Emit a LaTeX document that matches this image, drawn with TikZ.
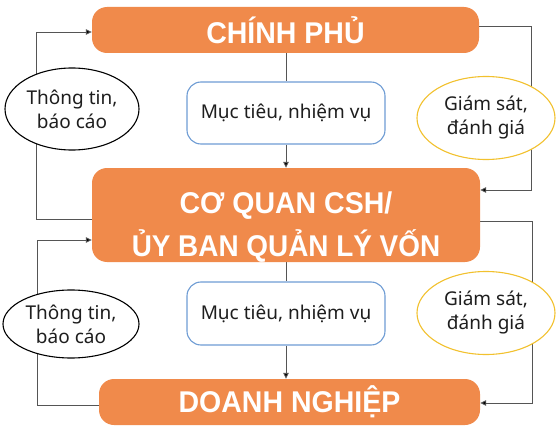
\documentclass[tikz,border=0pt]{standalone}
\usepackage{fontspec}
\setmainfont{Noto Sans}
\newfontfamily\bigfont{Liberation Sans}[FakeStretch=0.95]
\usetikzlibrary{arrows.meta,shapes.geometric,backgrounds}
\definecolor{orangebox}{HTML}{F08A4B}
\definecolor{bluebrd}{HTML}{6E9CD4}
\definecolor{goldbrd}{HTML}{F2C12E}
\definecolor{linegray}{HTML}{555555}
\definecolor{txt}{HTML}{1E1E1E}
\tikzset{
  mainbox/.style={rectangle, rounded corners=15pt, fill=orangebox, draw=none,
    text=white, font=\bigfont\bfseries\fontsize{30}{31}\selectfont, align=center,
    inner sep=0pt},
  goalbox/.style={rectangle, rounded corners=14pt, fill=white, draw=bluebrd,
    line width=1.1pt, text=txt, font=\fontsize{19}{23}\selectfont, inner sep=0pt},
  infoell/.style={ellipse, fill=white, draw=black, line width=1.1pt, text=txt,
    font=\fontsize{19}{24}\selectfont, align=center, inner sep=0pt},
  evalell/.style={ellipse, fill=white, draw=goldbrd, line width=1.1pt, text=txt,
    font=\fontsize{19}{24}\selectfont, align=center, inner sep=0pt},
  conn/.style={draw=linegray, line width=0.9pt},
  arr/.style={conn, -{Triangle[length=6pt,width=5.5pt,fill=black]}},
}
\begin{document}
\begin{tikzpicture}[x=1pt,y=-1pt]
\useasboundingbox (0,0) rectangle (560,436);
% main boxes
\node[mainbox, minimum width=387pt, minimum height=46pt] (top) at (285.5,30) {CHÍNH PHỦ};
\node[mainbox, minimum width=388pt, minimum height=94pt, text depth=0pt] (mid) at (286,215)
  {\raisebox{3pt}{\begin{tabular}{@{}c@{}}CƠ QUAN CSH/\\[7pt]{\addfontfeature{FakeStretch=0.93}ỦY BAN QUẢN LÝ VỐN}\end{tabular}}};
\node[mainbox, minimum width=381pt, minimum height=46pt] (bot) at (289.5,402) {DOANH NGHIỆP};
% goal boxes
\node[goalbox, minimum width=198pt, minimum height=62pt] (g1) at (286,113) {Mục tiêu, nhiệm vụ};
\node[goalbox, minimum width=198pt, minimum height=63pt] (g2) at (286,313.5) {Mục tiêu, nhiệm vụ};
% ellipses
\node[infoell, minimum width=134pt, minimum height=82pt] (i1) at (72,109) {Thông tin,\\báo cáo};
\node[infoell, minimum width=136pt, minimum height=68pt] (i2) at (71,324) {Thông tin,\\báo cáo};
\node[evalell, minimum width=138pt, minimum height=83pt] (e1) at (486,118) {Giám sát,\\đánh giá};
\node[evalell, minimum width=138pt, minimum height=83pt] (e2) at (486,313) {Giám sát,\\đánh giá};
% connector corners
\coordinate (la1) at (36,219);
\coordinate (la2) at (36,32);
\coordinate (lb1) at (37,405);
\coordinate (lb2) at (37,240);
\coordinate (ra1) at (531,26);
\coordinate (ra2) at (531,190);
\coordinate (rb1) at (532,221);
\coordinate (rb2) at (532,403);
\begin{scope}[on background layer]
  \draw[arr] (la1 -| mid.west) -- (la1) -- (la2) -- (la2 -| top.west);
  \draw[arr] (lb1 -| bot.west) -- (lb1) -- (lb2) -- (lb2 -| mid.west);
  \draw[arr] (ra1 -| top.east) -- (ra1) -- (ra2) -- (ra2 -| mid.east);
  \draw[arr] (rb1 -| mid.east) -- (rb1) -- (rb2) -- (rb2 -| bot.east);
  \draw[conn] (top.south -| g1.north) -- (g1.north);
  \draw[arr] (g1.south) -- (g1.south |- mid.north);
  \draw[conn] (mid.south -| g2.north) -- (g2.north);
  \draw[arr] (g2.south) -- (g2.south |- bot.north);
\end{scope}
\end{tikzpicture}
\end{document}
